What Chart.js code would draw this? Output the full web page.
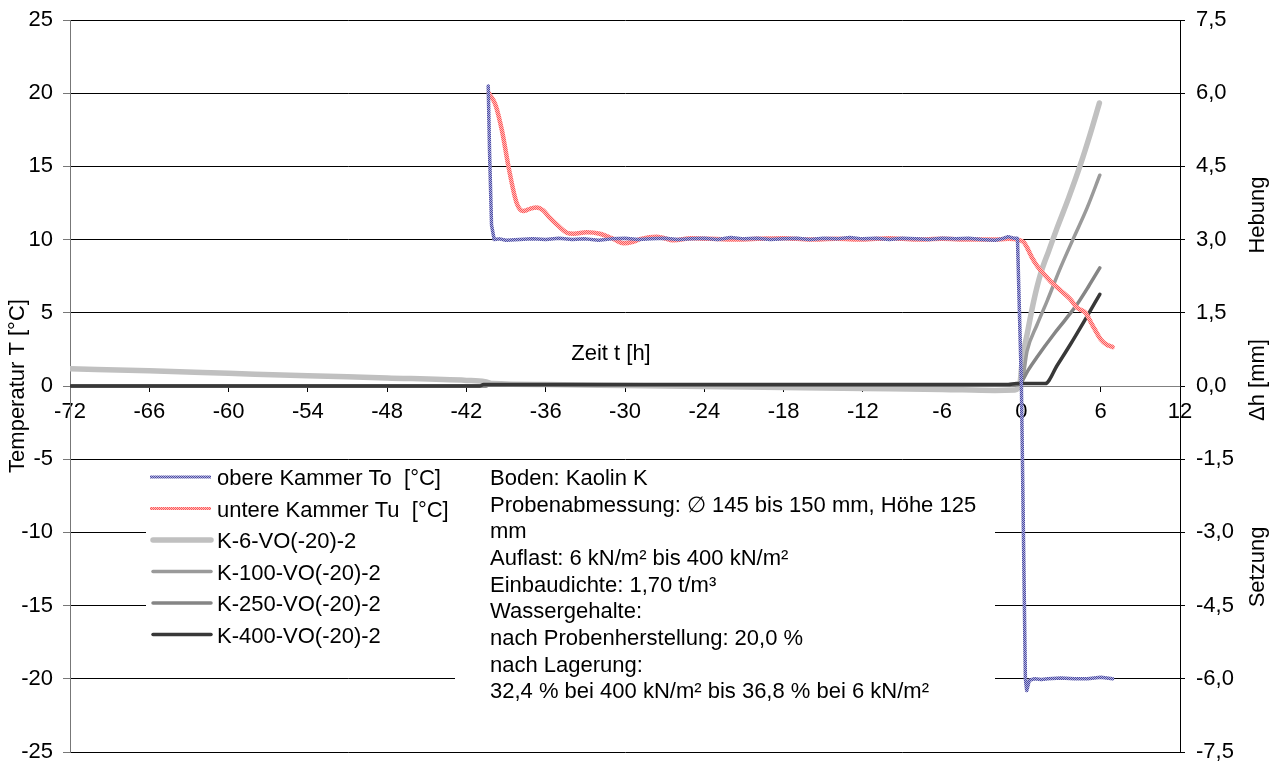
<!DOCTYPE html>
<html><head><meta charset="utf-8">
<script src="https://cdn.jsdelivr.net/npm/chart.js@4/dist/chart.umd.min.js"></script>
<style>html,body{margin:0;padding:0;background:#fff;overflow:hidden}canvas{display:block}</style>
</head><body>
<canvas id="c" width="1277" height="763"></canvas>
<script>
// ---------- data ----------
const legendLabels = ['obere Kammer To  [°C]','untere Kammer Tu  [°C]','K-6-VO(-20)-2','K-100-VO(-20)-2','K-250-VO(-20)-2','K-400-VO(-20)-2'];
const infoLines = ['Boden: Kaolin K','Probenabmessung: \u2205 145 bis 150 mm, Höhe 125','mm','Auflast: 6 kN/m² bis 400 kN/m²','Einbaudichte: 1,70 t/m³','Wassergehalte:','nach Probenherstellung: 20,0 %','nach Lagerung:','32,4 % bei 400 kN/m² bis 36,8 % bei 6 kN/m²'];
const xTitle = 'Zeit t [h]';
const leftTitle = 'Temperatur T [°C]';
const rightTitles = ['Hebung','\u0394h [mm]','Setzung'];
const rightTickLabels = {'7.5':'7,5','6':'6,0','4.5':'4,5','3':'3,0','1.5':'1,5','0':'0,0','-1.5':'-1,5','-3':'-3,0','-4.5':'-4,5','-6':'-6,0','-7.5':'-7,5'};

const toX = [-40.35,-40.25,-40.1,-39.9,-39.5,-39,-38,-37,-36,-35,-34,-33,-32,-31,-30,-29,-28,-27,-26,-25,-24,-23,-22,-21,-20,-19,-18,-17,-16,-15,-14,-13,-12,-11,-10,-9,-8,-7,-6,-5,-4,-3,-2,-1.5,-1,-0.6,-0.3,-0.15,0,0.15,0.3,0.4,0.6,1,1.5,2,3,4,5,6,6.9];
const toY = [20.5,16,11,10.0,10.05,9.95,10.0,10.05,10.0,10.1,10.0,10.05,9.95,10.05,10.1,10.0,10.05,10.1,10.0,10.05,10.1,10.0,10.15,10.05,10.1,10.0,10.05,10.1,10.0,10.1,10.05,10.15,10.05,10.1,10.0,10.1,10.05,10.0,10.1,10.05,10.1,10.0,9.95,10.05,10.2,10.1,10.1,5,0,-10,-20,-20.8,-20.1,-20.0,-20.05,-20.0,-19.95,-20.0,-20.0,-19.9,-20.0];

const tuX = [-40.3,-39.8,-39.3,-38.8,-38.2,-37.7,-37.2,-36.7,-36.2,-35.7,-35,-34.4,-33.9,-32.9,-31.9,-31,-30.1,-29.4,-28.8,-27.6,-26.3,-25,-22,-20,-18,-16,-14,-12,-10,-8,-6,-4,-2,-1,-0.3,0.2,0.43,0.8,1.19,1.7,2.3,3.0,3.7,4.2,4.85,5.35,6.0,6.5,6.9];
const tuY = [20,19.2,17.4,14.9,12.5,11.95,12.1,12.2,12.0,11.5,10.9,10.47,10.4,10.5,10.4,10.1,9.75,9.85,10.05,10.2,9.95,10.1,10.0,10.05,10.1,10.0,10.05,10.0,10.1,10.0,10.05,10.0,10.0,10.05,10.0,9.8,9.45,8.77,8.2,7.65,7.06,6.5,5.92,5.35,5.0,4.2,3.19,2.8,2.66];

const k6X = [-72,-66,-60,-54,-48,-42,-40.6,-40,-36,-30,-24,-18,-12,-6,-2,-0.5,-0.1,0.05,0.43,0.93,1.44,2.07,2.7,3.58,4.47,5.2,5.9];
const k6Y = [0.355,0.31,0.26,0.21,0.165,0.115,0.09,0.05,0.03,0.01,-0.01,-0.03,-0.05,-0.07,-0.09,-0.08,0.07,0.51,1.06,1.74,2.29,2.77,3.24,3.86,4.54,5.16,5.8];

const k100X = [-72,-40.6,-40.3,-30,-20,-10,-1,-0.3,0,0.43,1.19,1.94,2.95,3.96,4.97,5.93];
const k100Y = [0,0,0.02,0.02,0.02,0.02,0.02,0.03,0.05,0.72,1.26,1.74,2.42,3.04,3.65,4.32];

const k250X = [-72,-40.6,-40.3,-20,-1,-0.2,0,0.5,1.2,2.45,3.3,4.2,5.1,5.93];
const k250Y = [0,0,0.02,0.02,0.02,0.03,0.08,0.32,0.6,1.06,1.35,1.67,2.05,2.42];

const k400X = [-72,-41,-40.7,-20,-1,-0.4,0,1.8,2.7,3.7,4.8,5.93];
const k400Y = [0,0,0.03,0.03,0.03,0.05,0.05,0.05,0.42,0.85,1.35,1.88];

// ---------- chart ----------
const FONT = '"Liberation Sans", Arial, sans-serif';
const FS = 22;
const pts = (xs, ys) => xs.map((x, i) => ({x, y: ys[i]}));

function checker(dark, light) {
  const p = document.createElement('canvas');
  p.width = 2; p.height = 2;
  const g = p.getContext('2d');
  g.fillStyle = light; g.fillRect(0, 0, 2, 2);
  g.fillStyle = dark; g.fillRect(0, 0, 1, 1); g.fillRect(1, 1, 1, 1);
  return document.getElementById('c').getContext('2d').createPattern(p, 'repeat');
}
const bluePat = checker('#4a4aa4', '#b2b2dc');
const redPat = checker('#ff5a5a', '#ffbcbc');

const datasets = [
  {label: legendLabels[0], data: pts(toX, toY), yAxisID: 'y', borderColor: bluePat, borderWidth: 3.5, tension: 0, order: 0},
  {label: legendLabels[1], data: pts(tuX, tuY), yAxisID: 'y', borderColor: redPat, borderWidth: 4.5, cubicInterpolationMode: 'monotone', order: 1},
  {label: legendLabels[2], data: pts(k6X, k6Y), yAxisID: 'y2', borderColor: '#c0c0c0', borderWidth: 5.5, cubicInterpolationMode: 'monotone', order: 5},
  {label: legendLabels[3], data: pts(k100X, k100Y), yAxisID: 'y2', borderColor: '#9a9a9a', borderWidth: 3.5, cubicInterpolationMode: 'monotone', order: 4},
  {label: legendLabels[4], data: pts(k250X, k250Y), yAxisID: 'y2', borderColor: '#858585', borderWidth: 3.5, cubicInterpolationMode: 'monotone', order: 3},
  {label: legendLabels[5], data: pts(k400X, k400Y), yAxisID: 'y2', borderColor: '#383838', borderWidth: 3.5, cubicInterpolationMode: 'monotone', order: 2}
];
datasets.forEach(d => { d.pointRadius = 0; d.fill = false; d.borderCapStyle = 'round'; d.borderJoinStyle = 'round'; });

const overlay = {
  id: 'overlay',
  beforeDatasetsDraw(chart) {
    const c = chart.ctx;
    c.save();
    c.fillStyle = '#fff';
    c.fillRect(146, 462, 309, 193);
    c.fillRect(455, 462, 540, 253);
    c.font = FS + 'px ' + FONT;
    c.textBaseline = 'alphabetic';
    c.textAlign = 'left';
    legendLabels.forEach((lab, i) => {
      const y = 477 + 31.5 * i;
      const ds = chart.data.datasets[i];
      c.strokeStyle = ds.borderColor;
      c.lineWidth = i < 2 ? 3 : ds.borderWidth;
      c.lineCap = i < 2 ? 'butt' : 'round';
      c.beginPath(); c.moveTo(i < 2 ? 150 : 153, y); c.lineTo(211, y); c.stroke();
      c.fillStyle = '#000';
      c.fillText(lab, 217, y + 8);
    });
    c.fillStyle = '#000';
    infoLines.forEach((t, i) => c.fillText(t, 490, 485 + 26.65 * i));
    c.textAlign = 'center';
    c.fillText(xTitle, 611, 360);
    c.restore();
  },
  afterDraw(chart) {
    const c = chart.ctx;
    c.save();
    c.font = FS + 'px ' + FONT;
    c.fillStyle = '#000';
    c.textAlign = 'center';
    c.textBaseline = 'middle';
    const rot = (t, x, y) => { c.save(); c.translate(x, y); c.rotate(-Math.PI / 2); c.fillText(t, 0, 0); c.restore(); };
    rot(leftTitle, 18, 386);
    rot(rightTitles[0], 1258, 215);
    rot(rightTitles[1], 1258, 380);
    rot(rightTitles[2], 1258, 567);
    c.restore();
  }
};

new Chart(document.getElementById('c'), {
  type: 'line',
  data: {datasets},
  options: {
    responsive: false, animation: false, devicePixelRatio: 1,
    layout: {padding: {top: 20, bottom: 11, left: 0, right: 0}},
    plugins: {legend: {display: false}, tooltip: {enabled: false}},
    scales: {
      x: {
        type: 'linear', min: -72, max: 12, position: {y: 0},
        ticks: {stepSize: 6, autoSkip: false, maxRotation: 0, color: '#000', font: {family: FONT, size: FS}, padding: 8},
        grid: {drawOnChartArea: false, drawTicks: true, tickLength: 5, color: '#000'},
        border: {color: '#808080', width: 1}
      },
      y: {
        type: 'linear', position: 'left', min: -25, max: 25,
        ticks: {stepSize: 5, color: '#000', font: {family: FONT, size: FS}, padding: 10},
        grid: {color: ctx => (ctx.tick && ctx.tick.value === 0) ? '#808080' : '#000', tickLength: 7, tickColor: '#777'},
        border: {color: '#777', width: 1},
        afterFit: s => { s.width = 70; s.paddingTop = 0; s.paddingBottom = 0; }
      },
      y2: {
        type: 'linear', position: 'right', min: -7.5, max: 7.5,
        ticks: {stepSize: 1.5, color: '#000', font: {family: FONT, size: FS}, padding: 11,
          callback: v => rightTickLabels[String(+v.toFixed(1))] ?? String(v)},
        grid: {drawOnChartArea: false, tickLength: 5, color: '#000'},
        border: {color: '#000', width: 1},
        afterFit: s => { s.width = 97; s.paddingTop = 0; s.paddingBottom = 0; }
      }
    }
  },
  plugins: [overlay]
});
</script>
</body></html>
